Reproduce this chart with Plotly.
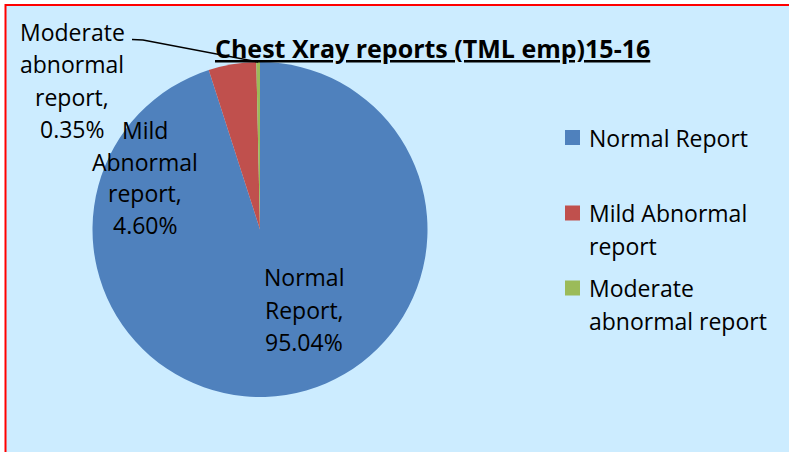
import math
import plotly.graph_objects as go

W, H = 789, 452

# ---- data ----
labels = ["Normal Report", "Mild Abnormal report", "Moderate abnormal report"]
values = [95.04, 4.60, 0.35]
colors = ["#4F81BD", "#C0504D", "#9BBB59"]
title_text = "Chest Xray reports (TML emp)15-16"
# wrapped name lines used for data labels and legend
label_wrap = [["Normal", "Report,"], ["Mild", "Abnormal", "report,"], ["Moderate", "abnormal", "report,"]]
legend_wrap = [["Normal Report"], ["Mild Abnormal", "report"], ["Moderate", "abnormal report"]]

FONT = "Open Sans, Noto Sans, sans-serif"


def px(x, y):
    return x / W, 1 - y / H


# pie geometry (pixels)
cx, cy, r = 260, 229.5, 167.5

fig = go.Figure()
fig.add_trace(go.Pie(
    labels=labels, values=values, sort=False, direction="clockwise", rotation=0,
    marker=dict(colors=colors, line=dict(width=0)),
    textinfo="none", hoverinfo="label+percent", showlegend=False,
    domain=dict(x=[(cx - r) / W, (cx + r) / W], y=[1 - (cy + r) / H, 1 - (cy - r) / H]),
))

annotations = []
shapes = []

# white margin outside the chart frame (top and left), then the red frame edges
fl, ft = 5.5 / W, 1 - 5 / H
shapes.append(dict(type="rect", xref="paper", yref="paper", layer="below",
                   x0=0, x1=1.02, y0=ft, y1=1.02, fillcolor="white", line=dict(width=0)))
shapes.append(dict(type="rect", xref="paper", yref="paper", layer="below",
                   x0=-0.02, x1=fl, y0=-0.02, y1=1.02, fillcolor="white", line=dict(width=0)))
shapes.append(dict(type="path", xref="paper", yref="paper", layer="below",
                   path=f"M {fl} -0.02 L {fl} {ft} L 1.02 {ft}",
                   line=dict(color="#FF0000", width=2)))

# title
tx, ty = px(432, 48)
annotations.append(dict(text="<b>" + title_text + "</b>", x=tx, y=ty, xref="paper", yref="paper",
                        showarrow=False, xanchor="center", yanchor="middle",
                        font=dict(family=FONT, size=25, color="black", lineposition="under")))

# data labels (one annotation per line)
label_pos = [(304, 277, 32.5), (145, 130, 31.7), (72, 32, 32.3)]
for i, (lx, ly0, sp) in enumerate(label_pos):
    lines = label_wrap[i] + [f"{values[i]:.2f}%"]
    for j, t in enumerate(lines):
        x, y = px(lx, ly0 + j * sp)
        annotations.append(dict(text=t, x=x, y=y, xref="paper", yref="paper", showarrow=False,
                                xanchor="center", yanchor="middle",
                                font=dict(family=FONT, size=23, color="black")))

# leader line for the small slice
total = sum(values)
mid = (sum(values[:2]) + values[2] / 2) / total * 2 * math.pi
ex, ey = cx + r * math.sin(mid), cy - r * math.cos(mid)
p0 = px(132, 39.5)
p1 = px(143, 40)
p2 = px(ex, ey)
shapes.append(dict(type="path", xref="paper", yref="paper",
                   path=f"M {p0[0]} {p0[1]} L {p1[0]} {p1[1]} L {p2[0]} {p2[1]}",
                   line=dict(color="black", width=1.5)))

# manual legend
legend_rows = [137.5, 213, 288]
for i, ry in enumerate(legend_rows):
    a = px(565, ry - 7.5)
    b = px(580, ry + 7.5)
    shapes.append(dict(type="rect", xref="paper", yref="paper", x0=a[0], x1=b[0], y0=b[1], y1=a[1],
                       fillcolor=colors[i], line=dict(width=0)))
    for j, t in enumerate(legend_wrap[i]):
        x, y = px(587, ry + j * 32.5)
        annotations.append(dict(text=t, x=x, y=y, xref="paper", yref="paper", showarrow=False,
                                xanchor="left", yanchor="middle",
                                font=dict(family=FONT, size=23, color="black")))

fig.update_layout(
    width=W, height=H, margin=dict(l=0, r=0, t=0, b=0),
    paper_bgcolor="#CCECFF", plot_bgcolor="#CCECFF",
    annotations=annotations, shapes=shapes, showlegend=False,
)

fig.write_html("out.html", config={"displayModeBar": False})

# remove default page margins so the figure sits at the window origin
with open("out.html", encoding="utf-8") as f:
    html = f.read()
html = html.replace("<head>", "<head><style>html,body{margin:0;padding:0;overflow:hidden;background:#CCECFF;}</style>", 1)
with open("out.html", "w", encoding="utf-8") as f:
    f.write(html)
